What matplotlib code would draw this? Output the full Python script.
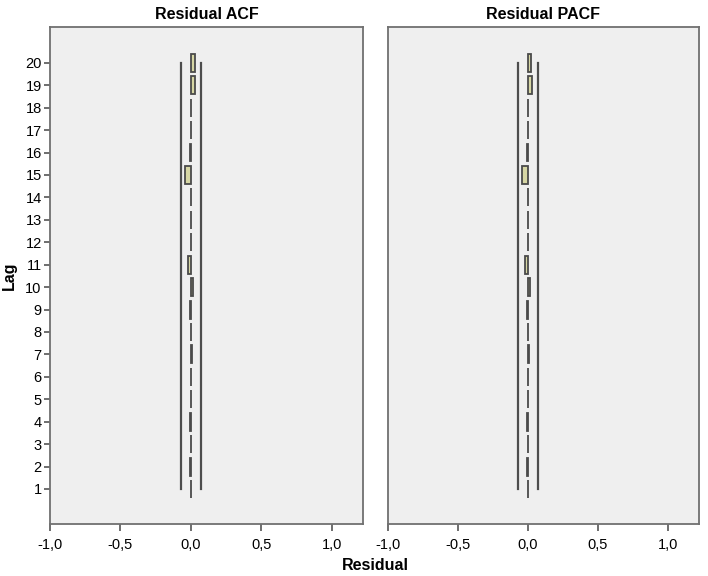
import matplotlib
matplotlib.use("Agg")
import matplotlib.pyplot as plt
import numpy as np
from matplotlib.ticker import FuncFormatter

# residual correlations per lag
lags = list(range(1, 21))
acf = [0.0, -0.004, 0.0, -0.005, -0.003, 0.002, 0.004, -0.003, -0.008, 0.018,
       -0.022, -0.002, -0.003, -0.002, -0.045, -0.006, 0.002, 0.0, 0.030, 0.028]
pacf = [0.0, -0.004, 0.0, -0.005, -0.003, 0.002, 0.004, -0.003, -0.008, 0.016,
        -0.020, -0.002, -0.003, -0.002, -0.045, -0.006, 0.002, 0.0, 0.030, 0.025]
conf_limit = 0.072
titles = ["Residual ACF", "Residual PACF"]
xticks = [-1.0, -0.5, 0.0, 0.5, 1.0]

plt.rcParams['font.family'] = ['Liberation Sans', 'DejaVu Sans']

fig = plt.figure(figsize=(7.08, 5.76), dpi=100)
fig.patch.set_facecolor('white')
ax1 = fig.add_axes([0.0706, 0.0903, 0.442, 0.863])
ax2 = fig.add_axes([0.548, 0.0903, 0.439, 0.863])

comma = FuncFormatter(lambda v, p: ("%.1f" % v).replace(".", ","))

for ax, vals, title in zip([ax1, ax2], [acf, pacf], titles):
	ax.set_facecolor('#efefef')
	ax.barh(lags, vals, left=0, height=0.8, color='#d6d6a4', edgecolor='#4a4a4a', linewidth=1.3, zorder=3)
	ax.plot([-conf_limit] * len(lags), lags, color='#4d4d4d', linewidth=1.6, zorder=2)
	ax.plot([conf_limit] * len(lags), lags, color='#4d4d4d', linewidth=1.6, zorder=2)
	ax.set_xlim(-1.0, 1.22)
	ax.set_ylim(-0.56, 21.6)
	ax.set_xticks(xticks)
	ax.xaxis.set_major_formatter(comma)
	ax.set_title(title, fontsize=11.5, fontweight='bold', pad=6)
	for s in ax.spines.values():
		s.set_color('#707070')
		s.set_linewidth(1.3)
	ax.tick_params(axis='x', length=5, width=1.2, color='#555555', labelsize=10.5, pad=5)

ax1.set_yticks(lags)
ax1.set_yticklabels([str(l) for l in lags])
ax1.tick_params(axis='y', length=4, width=1.2, color='#555555', labelsize=10.5, pad=2)
ax1.set_ylabel("Lag", fontsize=11.5, fontweight='bold', labelpad=6)
ax2.set_yticks([])

fig.text(0.53, 0.0174, "Residual", ha='center', va='center', fontsize=11.5, fontweight='bold')

plt.savefig("out.png", dpi=100)
